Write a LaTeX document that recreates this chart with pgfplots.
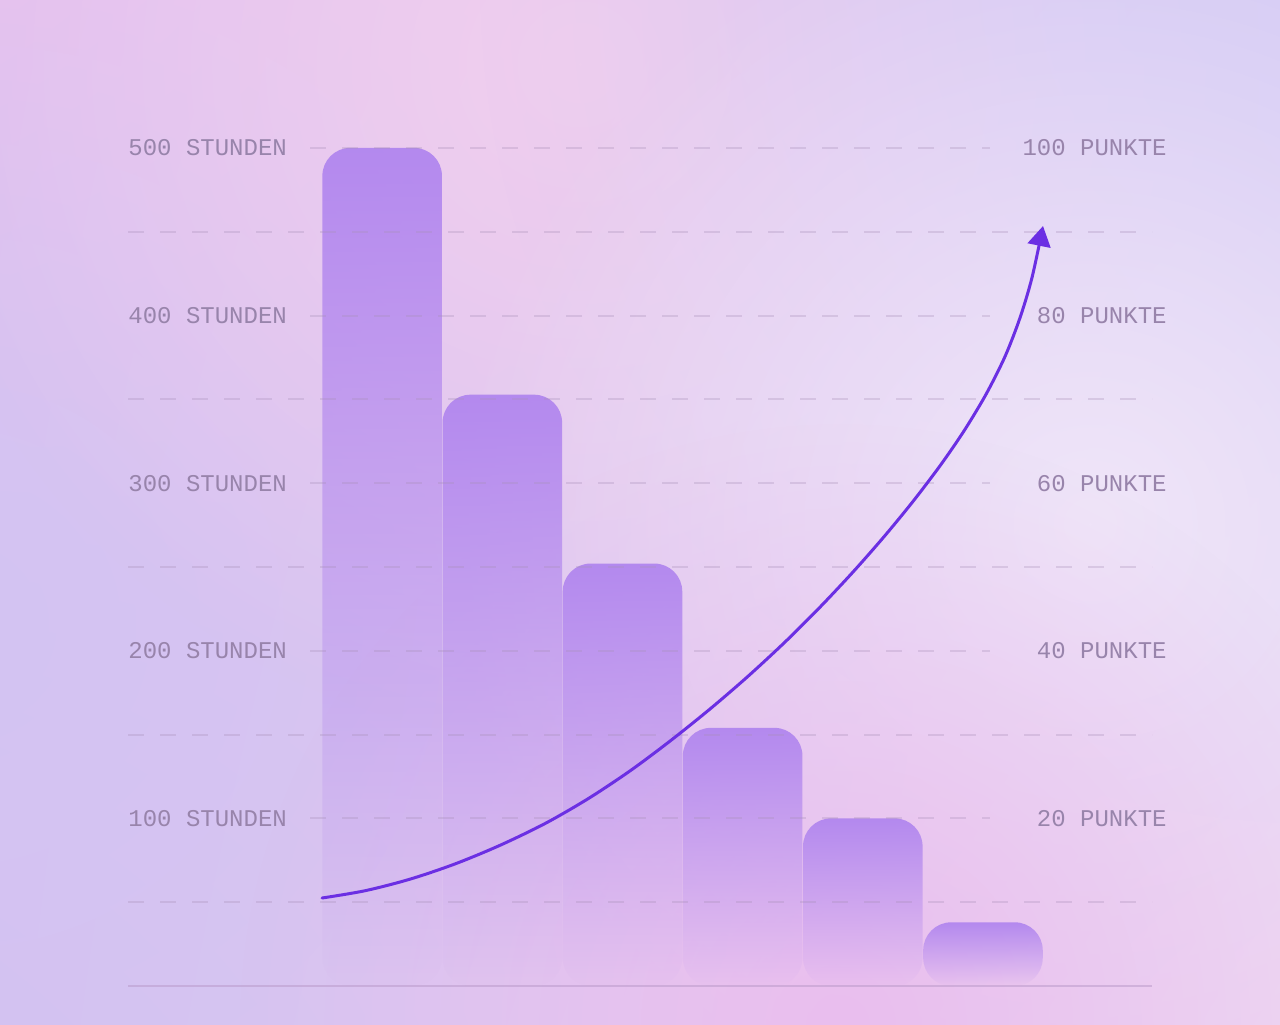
\documentclass[border=0pt]{standalone}
\usepackage{fontspec}
\setmonofont{Liberation Mono}
\usepackage{pgfplots}
\pgfplotsset{compat=1.18}
\usetikzlibrary{fadings,shadings,arrows.meta}

\definecolor{bgTL}{HTML}{ECBEEE}
\definecolor{bgTR}{HTML}{D6CCF5}
\definecolor{bgBL}{HTML}{D4C0F0}
\definecolor{bgBR}{HTML}{EED8F2}
\definecolor{blobPink}{HTML}{F1CFEE}
\definecolor{blobGlow}{HTML}{F0E6F9}
\definecolor{blobLow}{HTML}{EABEEE}
\definecolor{blobLav}{HTML}{D3C4F3}
\definecolor{blobTR}{HTML}{D5CBF5}
\definecolor{barC}{HTML}{B287EE}
\definecolor{curveC}{HTML}{6B2FE3}
\definecolor{labelC}{HTML}{9884AB}
\definecolor{gridC}{HTML}{A890B8}
\definecolor{baseC}{HTML}{B898C8}

\tikzfading[name=blob, inner color=transparent!0, outer color=transparent!100]
\tikzfading[name=barfade, top color=transparent!3, middle color=transparent!35, bottom color=transparent!100]

\newcommand{\lblfont}{\ttfamily\fontsize{12}{12}\selectfont}

\pgfplotsset{
  hbar/.style={ybar, bar shift=0pt, bar width=0.995, draw=none, fill=barC,
    rounded corners=14pt, path fading=barfade},
}

\begin{document}
\begin{tikzpicture}
\useasboundingbox (0,0) rectangle (640pt,512pt);
% background
\shade[upper left=bgTL, upper right=bgTR, lower left=bgBL, lower right=bgBR] (0,0) rectangle (640pt,512pt);
\begin{scope}
\clip (0,0) rectangle (640pt,512pt);
\fill[blobLav, path fading=blob] (-20pt,200pt) circle (480pt);
\fill[blobPink, path fading=blob] (290pt,480pt) circle (340pt);
\fill[blobTR, path fading=blob] (660pt,520pt) circle (420pt);
\fill[blobGlow, path fading=blob] (545pt,250pt) circle (320pt);
\fill[blobLow, path fading=blob] (420pt,0pt) circle (300pt);
\end{scope}

% hours and bars
\begin{axis}[
  at={(64pt,19pt)}, anchor=south west,
  scale only axis, width=512pt, height=419pt,
  xmin=-2.115, xmax=6.407, ymin=0, ymax=500,
  clip=false,
  axis on top,
  axis x line*=bottom, axis y line*=left,
  x axis line style={draw=baseC, draw opacity=0.5, line width=1pt, -},
  y axis line style={draw=none},
  xtick=\empty,
  ytick={100,200,300,400,500},
  yticklabels={100 STUNDEN,200 STUNDEN,300 STUNDEN,400 STUNDEN,500 STUNDEN},
  minor ytick={50,150,250,350,450},
  yminorgrids=true, ymajorgrids=false,
  minor grid style={gridC, draw opacity=0.3, line width=1pt, dash pattern=on 8pt off 8pt},
  major tick length=0pt, minor tick length=0pt,
  tick style={draw=none},
  yticklabel style={anchor=west, inner sep=0pt, font=\lblfont, text=labelC},
]
\addplot[hbar] coordinates {(0,500)};
\addplot[hbar] coordinates {(1,353)};
\addplot[hbar] coordinates {(2,252)};
\addplot[hbar] coordinates {(3,154)};
\addplot[hbar] coordinates {(4,100)};
\addplot[hbar] coordinates {(5,38)};
\pgfplotsinvokeforeach{100,200,300,400,500}{
  \draw[gridC, draw opacity=0.3, line width=1pt, dash pattern=on 8pt off 8pt]
    (axis cs:-0.6,#1) -- (axis cs:5.06,#1);
}
\end{axis}

% points curve
\begin{axis}[
  at={(64pt,19pt)}, anchor=south west,
  scale only axis, width=512pt, height=419pt,
  xmin=-2.115, xmax=6.407, ymin=0, ymax=100,
  clip=false,
  hide x axis,
  axis y line*=right,
  y axis line style={draw=none},
  ytick={20,40,60,80,100},
  yticklabels={20 PUNKTE,40 PUNKTE,60 PUNKTE,80 PUNKTE,100 PUNKTE},
  major tick length=0pt, tick style={draw=none},
  yticklabel style={anchor=east, inner sep=0pt, xshift=7.5pt, font=\lblfont, text=labelC},
]
\addplot[curveC, line width=1.5pt, smooth, line cap=round,
  -{Triangle[width=11.5pt,length=10pt]}]
  coordinates {(-0.5,10.5) (-0.142,11.37) (0.232,12.75) (0.607,14.57) (0.981,16.79)
    (1.356,19.39) (1.713,22.34) (2.063,25.67) (2.396,29.23) (2.729,33.06)
    (3.045,36.96) (3.353,41.05) (3.644,45.21) (3.919,49.41) (4.177,53.62)
    (4.418,57.83) (4.643,62.08) (4.842,66.23) (5.025,70.59) (5.184,75.13)
    (5.308,79.72) (5.408,84.52) (5.5,90.69)};
\end{axis}
\end{tikzpicture}
\end{document}
